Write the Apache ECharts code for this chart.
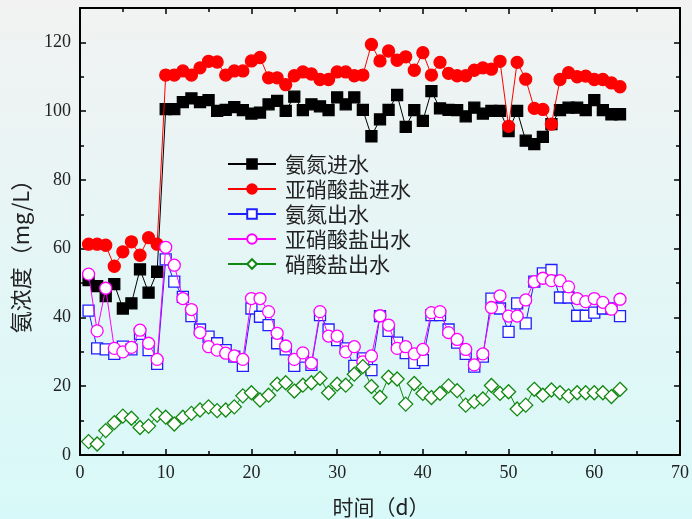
<!DOCTYPE html>
<html>
<head>
<meta charset="utf-8">
<script src="https://cdn.jsdelivr.net/npm/echarts@6/dist/echarts.min.js"></script>
<style>html,body{margin:0;padding:0;}#c{width:692px;height:519px;}</style>
</head>
<body>
<div id="c"></div>
<script>
const days = Array.from({length: 63}, (_, i) => i + 1);
const xTicks = [0, 10, 20, 30, 40, 50, 60, 70];
const yTicks = [0, 20, 40, 60, 80, 100, 120];
const seriesNames = ['氨氮进水', '亚硝酸盐进水', '氨氮出水', '亚硝酸盐出水', '硝酸盐出水'];

const ammoniaIn = [50.9,49.1,46.2,49.7,42.6,44.1,54.0,47.2,53.3,100.6,100.6,102.6,103.7,102.6,103.2,100.1,100.4,101.2,100.3,99.3,99.6,102.0,103.0,100.1,104.2,100.3,102.0,101.4,100.3,104.0,102.0,104.0,100.4,92.7,97.6,100.4,104.7,95.4,100.3,97.2,105.8,100.8,100.4,100.3,98.5,101.0,99.3,100.1,100.1,94.2,100.1,91.4,90.4,92.5,96.2,100.3,101.0,101.0,100.3,103.2,100.3,99.1,99.1];
const nitriteIn = [61.3,61.3,61.0,54.9,59.1,62.0,58.1,63.2,61.3,110.5,110.5,111.7,110.5,112.6,114.5,114.3,110.5,111.7,111.7,114.6,115.6,109.7,109.7,107.7,110.3,111.4,110.8,109.2,109.2,111.4,111.4,110.3,110.5,119.4,114.6,117.5,114.8,115.8,111.9,117.0,110.5,114.2,111.0,110.3,110.3,111.9,112.6,112.2,114.5,95.6,114.2,109.3,100.8,100.5,96.2,109.2,111.2,110.0,110.2,109.2,109.2,108.2,107.1];
const ammoniaOut = [42.0,31.0,30.7,29.4,31.5,30.7,35.2,30.5,26.5,56.9,50.4,46.0,40.4,36.5,34.4,32.5,30.5,28.6,25.9,42.6,40.2,37.8,32.5,30.7,25.9,28.6,26.2,40.7,36.5,33.4,31.0,25.9,28.1,24.7,40.4,36.1,32.7,29.6,26.8,27.6,40.7,40.7,36.5,32.7,29.4,25.7,28.6,45.5,42.6,35.8,44.1,38.3,50.4,52.8,53.8,45.8,45.8,40.5,40.5,41.4,42.6,42.6,40.4];
const nitriteOut = [52.6,36.1,48.5,31.0,30.0,31.3,36.3,32.5,27.8,60.4,55.2,45.5,42.3,35.6,31.5,30.5,29.6,28.8,27.8,45.5,45.5,41.7,35.4,31.7,27.8,29.7,26.7,41.7,34.6,34.6,30.0,31.5,27.1,28.8,40.5,37.8,31.0,31.5,29.4,30.7,41.4,41.7,35.6,33.6,30.7,26.2,29.4,42.9,46.3,40.4,40.4,45.1,50.4,51.4,50.7,50.7,48.9,45.5,44.6,45.5,44.4,42.4,45.3];
const nitrateOut = [3.9,3.2,7.1,9.4,11.3,10.7,8.0,8.4,11.6,11.0,9.0,11.0,12.1,13.1,14.0,12.9,13.1,14.0,17.2,18.1,16.0,17.4,20.6,21.0,18.6,20.3,21.0,22.3,18.1,20.6,20.3,23.5,25.7,19.9,16.8,22.6,22.1,14.8,20.8,17.9,16.7,17.9,20.1,18.7,14.5,15.5,16.3,20.2,17.9,18.4,13.4,14.5,19.1,17.4,18.9,18.1,17.2,18.1,18.1,18.1,18.1,17.0,19.1];

const pair = arr => days.map((d, i) => [d, arr[i]]);
const serif = 'Liberation Serif';
const cjk = 'Noto Sans CJK SC';

const styles = [
  {color: '#000000', symbol: 'rect', size: 11, fill: '#000000', data: ammoniaIn},
  {color: '#FF0000', symbol: 'circle', size: 12, fill: '#FF0000', data: nitriteIn},
  {color: '#2020FF', symbol: 'rect', size: 11, fill: '#FFFFFF', data: ammoniaOut},
  {color: '#FF00FF', symbol: 'circle', size: 12, fill: '#FFFFFF', data: nitriteOut},
  {color: '#118811', symbol: 'diamond', size: 14, fill: '#FFFFFF', data: nitrateOut}
];

const xBase = {
  type: 'value', min: 0, max: 70, interval: 10,
  axisLine: {show: true, onZero: false, lineStyle: {color: '#000', width: 2}},
  axisTick: {show: true, inside: true, length: 6, lineStyle: {color: '#000', width: 1.5}},
  minorTick: {show: true, splitNumber: 2, length: 4, lineStyle: {color: '#000', width: 1.5}},
  splitLine: {show: false}
};
const yBase = {
  type: 'value', min: 0, max: 130, interval: 20,
  axisLine: {show: true, onZero: false, lineStyle: {color: '#000', width: 2}},
  axisTick: {show: true, inside: true, length: 6, lineStyle: {color: '#000', width: 1.5}},
  minorTick: {show: true, splitNumber: 2, length: 4, lineStyle: {color: '#000', width: 1.5}},
  splitLine: {show: false}
};

const chart = echarts.init(document.getElementById('c'));
chart.setOption({
  animation: false,
  backgroundColor: {
    type: 'linear', x: 0, y: 0, x2: 0, y2: 1,
    colorStops: [{offset: 0, color: '#F2F2F2'}, {offset: 1, color: '#D8F9F9'}]
  },
  grid: {left: 80, right: 10, top: 8, bottom: 64},
  xAxis: [
    Object.assign({}, xBase, {
      position: 'bottom',
      axisLabel: {show: true, color: '#222', fontFamily: serif, fontSize: 18, margin: 9,
        formatter: v => xTicks.includes(v) ? String(v) : ''}
    }),
    Object.assign({}, xBase, {position: 'top', axisLabel: {show: false}})
  ],
  yAxis: [
    Object.assign({}, yBase, {
      position: 'left',
      axisLabel: {show: true, color: '#222', fontFamily: serif, fontSize: 18, margin: 9,
        showMaxLabel: false,
        formatter: v => yTicks.includes(v) ? String(v) : ''}
    }),
    Object.assign({}, yBase, {position: 'right', axisLabel: {show: false}})
  ],
  legend: {
    orient: 'vertical', left: 222, top: 148,
    itemWidth: 48, itemHeight: 12, itemGap: 3,
    textStyle: {fontFamily: cjk, fontSize: 21, lineHeight: 22, color: '#222', padding: [0, 0, 0, 4]},
    data: seriesNames
  },
  graphic: [
    {type: 'text', x: 381, y: 507,
      style: {text: '时间（d）', fontFamily: cjk, fontSize: 21, fill: '#222', textAlign: 'center', textVerticalAlign: 'middle'}},
    {type: 'text', rotation: Math.PI / 2, x: 21, y: 251,
      style: {text: '氨浓度（mg/L）', fontFamily: cjk, fontSize: 22, fill: '#222', textAlign: 'center', textVerticalAlign: 'middle'}}
  ],
  series: styles.map((s, i) => ({
    name: seriesNames[i], type: 'line', data: pair(s.data),
    symbol: s.symbol, symbolSize: s.size, showAllSymbol: true,
    lineStyle: {color: s.color, width: 1},
    itemStyle: {color: s.fill, borderColor: s.color, borderWidth: 1.3},
    z: 2 + i
  }))
});
</script>
</body>
</html>
